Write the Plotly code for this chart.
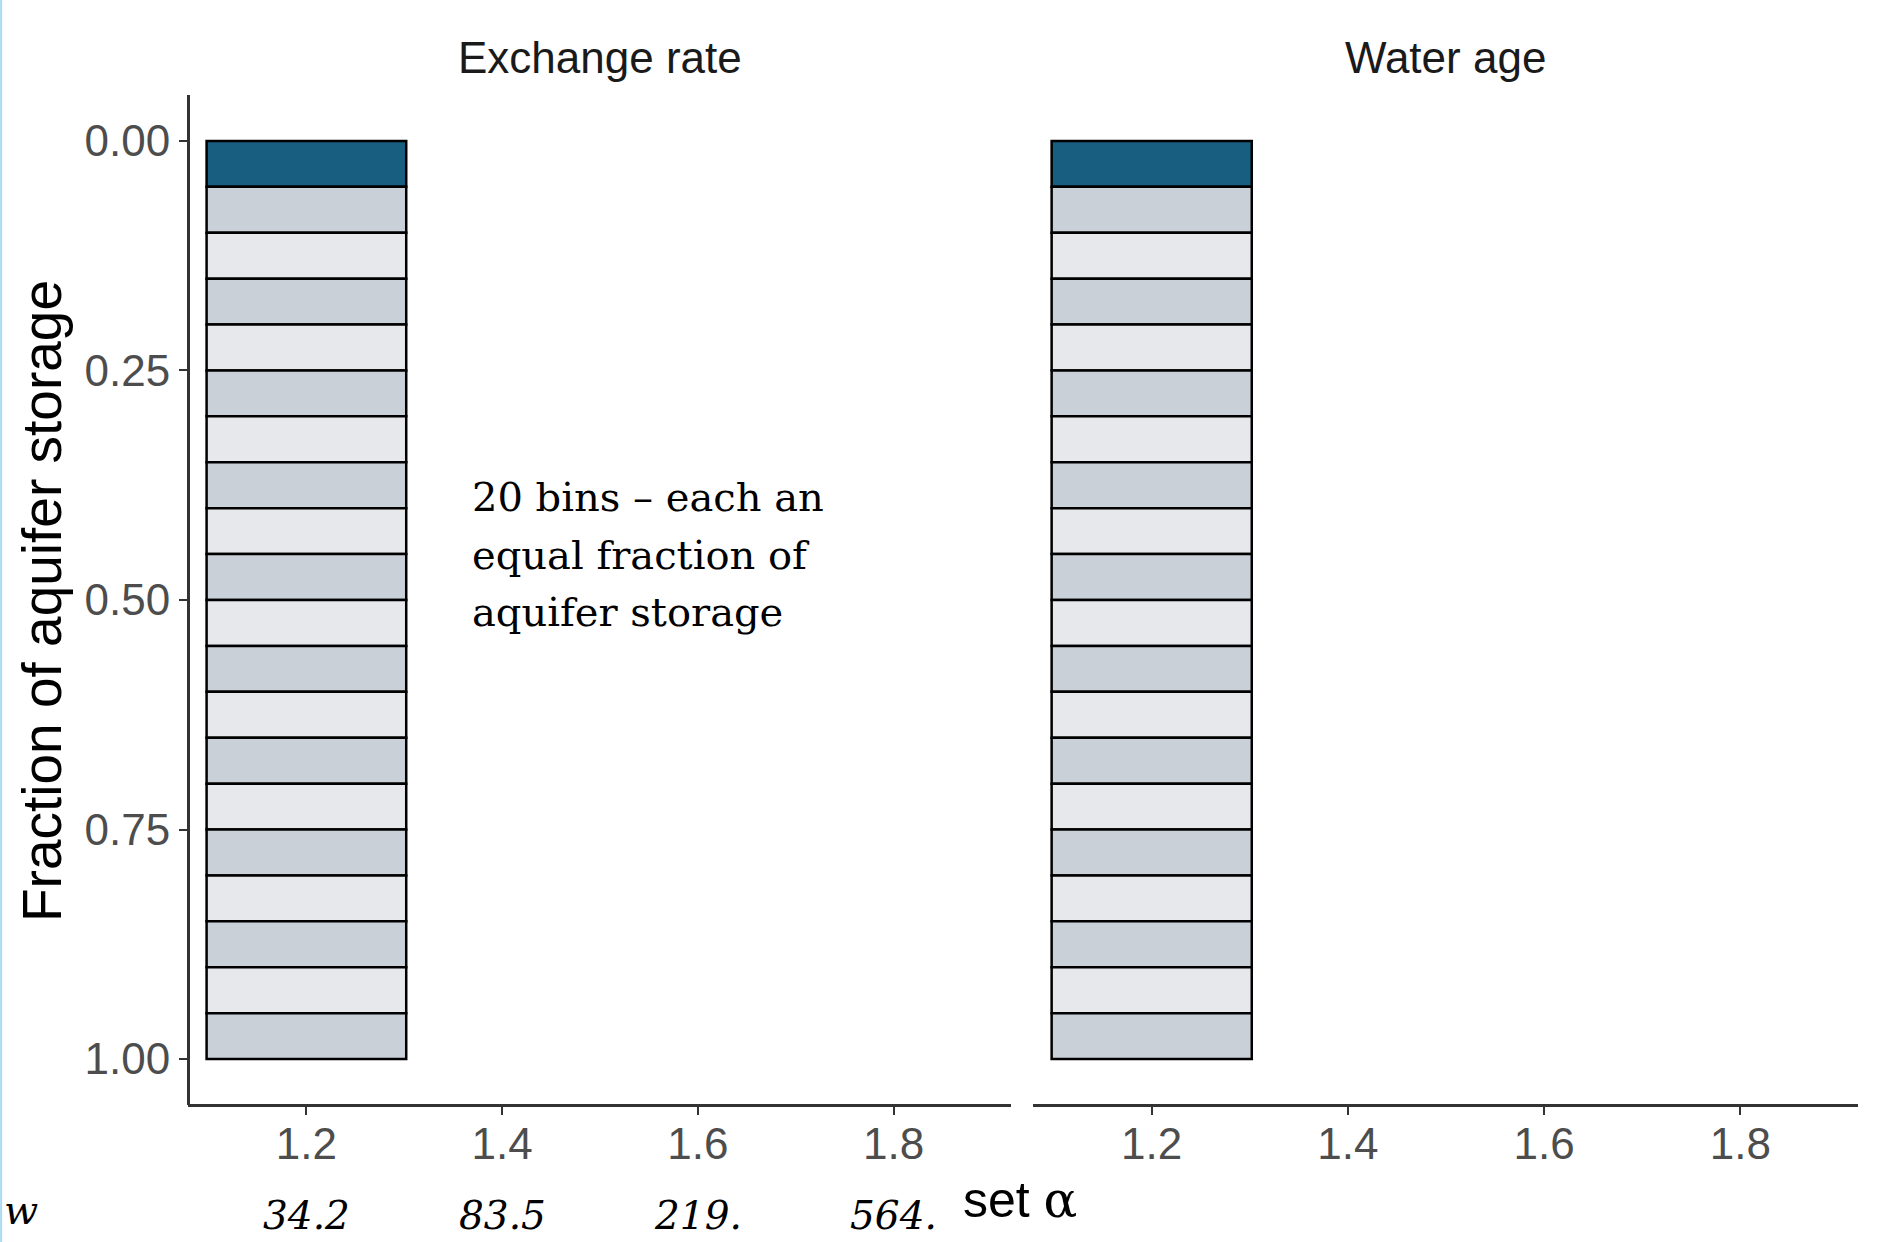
import numpy as np
import plotly.graph_objects as go

#   Data
panels = ["Exchange rate", "Water age"]
bin_size = [0.05, 0.05, 0.05, 0.05, 0.05, 0.05, 0.05, 0.05, 0.05, 0.05,
            0.05, 0.05, 0.05, 0.05, 0.05, 0.05, 0.05, 0.05, 0.05, 0.05]
set_alpha = 1.2
alpha_ticks = [1.2, 1.4, 1.6, 1.8]
w_labels = ["34.2", "83.5", "219.", "564."]
y_ticks = [0.00, 0.25, 0.50, 0.75, 1.00]
note_lines = ["20 bins – each an", "equal fraction of", "aquifer storage"]

bin_start = np.concatenate([[0], np.cumsum(bin_size)[:-1]])
colors = ["#175E80"] + ["#C9D0D8" if i % 2 == 1 else "#E6E8EC" for i in range(1, len(bin_size))]

W, H = 1877, 1242
px_x = lambda p: p / W
px_y = lambda p: 1 - p / H

domains = [[px_x(188), px_x(1011)], [px_x(1033), px_x(1858)]]

fig = go.Figure()

for k, name in enumerate(panels):
    fig.add_trace(go.Bar(
        x=[set_alpha] * len(bin_size),
        y=bin_size,
        base=bin_start,
        width=0.204,
        marker=dict(color=colors, line=dict(color="black", width=2.5)),
        xaxis="x" if k == 0 else "x2", yaxis="y" if k == 0 else "y2",
        showlegend=False, hoverinfo="skip",
    ))

tick_font = dict(family="Liberation Sans, Arial", size=44, color="#4D4D4D")
xaxis_common = dict(
    range=[1.079, 1.92], tickvals=alpha_ticks, ticktext=[f"{v:.1f}" for v in alpha_ticks],
    showline=True, linecolor="#333333", linewidth=3, ticks="outside", ticklen=8,
    tickwidth=2, tickcolor="#333333", tickfont=tick_font, showgrid=False, zeroline=False,
    anchor="free", position=px_y(1105), ticklabelstandoff=-9,
)
fig.update_layout(
    width=W, height=H,
    margin=dict(l=0, r=0, t=0, b=0),
    paper_bgcolor="white", plot_bgcolor="white",
    barmode="overlay",
    xaxis=dict(domain=domains[0], **xaxis_common),
    xaxis2=dict(domain=domains[1], **xaxis_common),
    yaxis=dict(
        domain=[px_y(1105), px_y(95)], range=[1.05, -0.05],
        tickvals=y_ticks, ticktext=[f"{v:.2f}" for v in y_ticks],
        showline=True, linecolor="#333333", linewidth=3, ticks="outside", ticklen=8,
        tickwidth=2, tickcolor="#333333", tickfont=tick_font, showgrid=False, zeroline=False,
        anchor="free", position=px_x(188),
    ),
    yaxis2=dict(
        domain=[px_y(1105), px_y(95)], range=[1.05, -0.05], anchor="x2",
        showline=False, showticklabels=False, ticks="", showgrid=False, zeroline=False,
    ),
)

#   Panel titles
for k, name in enumerate(panels):
    fig.add_annotation(
        text=name, xref="paper", yref="paper",
        x=sum(domains[k]) / 2, y=px_y(58), xanchor="center", yanchor="middle",
        showarrow=False,
        font=dict(family="Liberation Sans, Arial", size=44, color="#1A1A1A"),
    )

#   Y axis title
fig.add_annotation(
    text="Fraction of aquifer storage", xref="paper", yref="paper",
    x=px_x(42), y=px_y(601), xanchor="center", yanchor="middle",
    textangle=-90, showarrow=False,
    font=dict(family="Liberation Sans, Arial", size=55, color="black"),
)

#   Bins note, one annotation per line
for i, line in enumerate(note_lines):
    fig.add_annotation(
        text=line, xref="paper", yref="paper", x=px_x(470), y=px_y(497 + 57.5 * i),
        xanchor="left", yanchor="middle", showarrow=False,
        font=dict(family="DejaVu Serif", size=40, color="black"),
    )

#   w labels under alpha ticks
for v, lab in zip(alpha_ticks, w_labels):
    fig.add_annotation(
        text=f"<i>{lab}</i>", xref="x", yref="paper", x=v, y=px_y(1215),
        xanchor="center", yanchor="middle",
        showarrow=False, font=dict(family="DejaVu Serif", size=39, color="black"),
    )
fig.add_annotation(
    text="<i>w</i>", xref="paper", yref="paper", x=px_x(2), y=px_y(1210),
    xanchor="left", yanchor="middle",
    showarrow=False, font=dict(family="DejaVu Serif", size=40, color="black"),
)
fig.add_annotation(
    text="set <span style='font-family:DejaVu Serif'>α</span>", xref="paper", yref="paper",
    x=px_x(1020), y=px_y(1200), xanchor="center", yanchor="middle",
    showarrow=False, font=dict(family="Liberation Sans, Arial", size=50, color="black"),
)

#   Left edge line
fig.add_shape(type="line", xref="paper", yref="paper", x0=0.0006, x1=0.0006, y0=0, y1=1,
              line=dict(color="#A9D8F2", width=2))

fig.write_html("out.html", config={"displayModeBar": False},
               post_script="document.body.style.margin='0';")
